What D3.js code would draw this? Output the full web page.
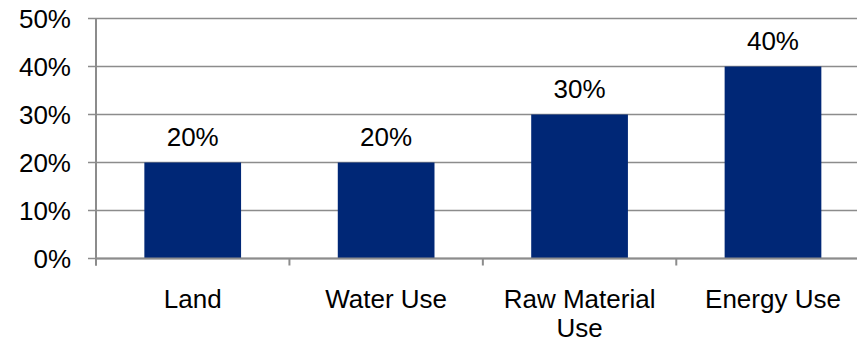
<!DOCTYPE html>
<html lang="en">
    <head>
        <meta charset="utf-8">
        <title>Bar chart</title>
        <script type="text/javascript" src="https://d3js.org/d3.v7.min.js"></script>
        <style type="text/css">
          body {
              margin: 0;
              background: #ffffff;
          }
          text {
              font-family: "Liberation Sans", Arial, sans-serif;
              font-size: 26px;
              fill: #000000;
          }
          .grid line {
              stroke: #8c8c8c;
              stroke-width: 1.5;
          }
          .bar {
            fill: #002776;
          }
        </style>
    </head>
    <body>
        <script type="text/javascript">
          // chart values
          var categories = [["Land"], ["Water Use"], ["Raw Material", "Use"], ["Energy Use"]];
          var values = [0.20, 0.20, 0.30, 0.40];
          var yTicks = [0, 0.1, 0.2, 0.3, 0.4, 0.5];

          var w = 857;
          var h = 341;
          var marginLeft = 96;
          var plotRight = 869.7;
          var marginTop = 18.5;
          var axisY = 258.5;

          var svg = d3.select("body").append("svg")
                      .attr("width", w)
                      .attr("height", h);

          var names = categories.map(function(c) { return c.join(" "); });

          var xScale = d3.scaleBand()
                         .domain(names)
                         .range([marginLeft, plotRight])
                         .paddingInner(0.5)
                         .paddingOuter(0.25);

          var yScale = d3.scaleLinear()
                         .domain([0, 0.5])
                         .range([axisY, marginTop]);

          // horizontal gridlines and left ticks
          var grid = svg.append("g").attr("class", "grid");
          grid.selectAll("line")
              .data(yTicks)
              .enter()
              .append("line")
              .attr("x1", marginLeft - 8)
              .attr("x2", plotRight)
              .attr("y1", function(d) { return yScale(d); })
              .attr("y2", function(d) { return yScale(d); });

          // y tick labels
          svg.append("g").selectAll("text")
             .data(yTicks)
             .enter()
             .append("text")
             .attr("x", 71)
             .attr("y", function(d) { return yScale(d); })
             .attr("dy", "0.35em")
             .attr("text-anchor", "end")
             .text(d3.format(".0%"));

          // bars
          svg.selectAll("rect.bar")
             .data(values)
             .enter()
             .append("rect")
             .attr("class", "bar")
             .attr("x", function(d, i) { return xScale(names[i]); })
             .attr("y", function(d) { return yScale(d); })
             .attr("width", xScale.bandwidth())
             .attr("height", function(d) { return axisY - yScale(d); });

          // value labels
          svg.append("g").selectAll("text")
             .data(values)
             .enter()
             .append("text")
             .attr("x", function(d, i) { return xScale(names[i]) + xScale.bandwidth() / 2; })
             .attr("y", function(d) { return yScale(d) - 17; })
             .attr("text-anchor", "middle")
             .text(d3.format(".0%"));

          // axes lines
          var axisColor = "#8c8c8c";
          svg.append("line")
             .attr("x1", marginLeft).attr("x2", marginLeft)
             .attr("y1", marginTop).attr("y2", axisY + 7)
             .attr("stroke", axisColor).attr("stroke-width", 2);
          svg.append("line")
             .attr("x1", marginLeft).attr("x2", plotRight)
             .attr("y1", axisY).attr("y2", axisY)
             .attr("stroke", axisColor).attr("stroke-width", 2);

          // category boundary ticks
          var step = xScale.step();
          var boundaries = d3.range(names.length + 1).map(function(i) { return marginLeft + i * step; });
          svg.append("g").selectAll("line")
             .data(boundaries)
             .enter()
             .append("line")
             .attr("x1", function(d) { return d; })
             .attr("x2", function(d) { return d; })
             .attr("y1", axisY)
             .attr("y2", axisY + 7)
             .attr("stroke", axisColor)
             .attr("stroke-width", 2);

          // category labels
          var catLabels = svg.append("g").selectAll("text")
             .data(categories)
             .enter()
             .append("text")
             .attr("text-anchor", "middle")
             .attr("x", function(d, i) { return xScale(names[i]) + xScale.bandwidth() / 2; })
             .attr("y", axisY + 49);
          catLabels.selectAll("tspan")
             .data(function(d) { return d; })
             .enter()
             .append("tspan")
             .attr("x", function() { return d3.select(this.parentNode).attr("x"); })
             .attr("dy", function(d, i) { return i === 0 ? 0 : 29; })
             .text(function(d) { return d; });
        </script>
    </body>
</html>
